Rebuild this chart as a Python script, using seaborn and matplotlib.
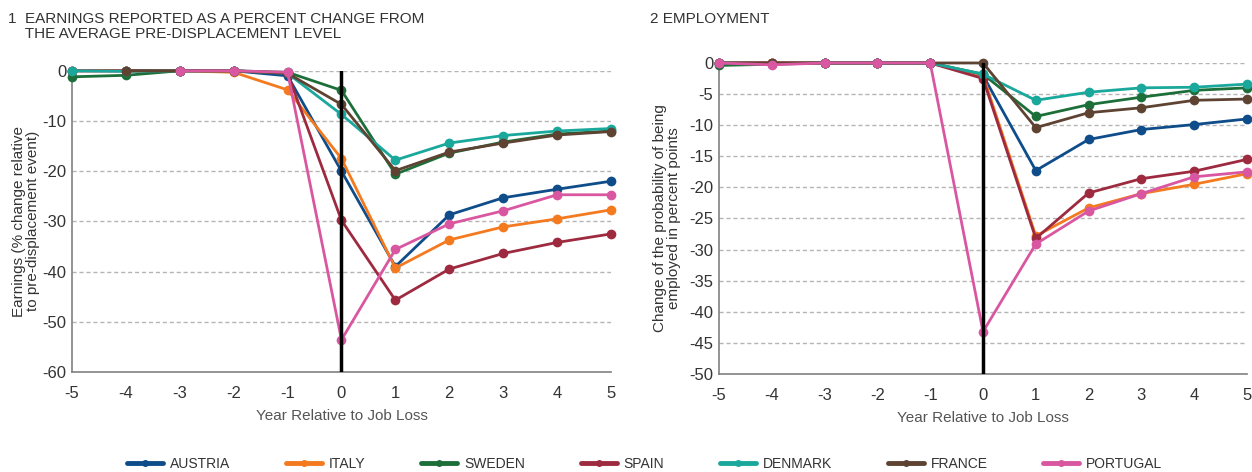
import numpy as np
import pandas as pd
import matplotlib
matplotlib.use("Agg")
import matplotlib.pyplot as plt
from matplotlib.lines import Line2D
import seaborn as sns

# ======================
# data
# ======================
years = [-5, -4, -3, -2, -1, 0, 1, 2, 3, 4, 5]
countries = ['AUSTRIA', 'ITALY', 'SWEDEN', 'SPAIN', 'DENMARK', 'FRANCE', 'PORTUGAL']

nan = np.nan
earn_austria = [0, 0, 0, 0, -1.0, -20.0, -39.0, -28.7, -25.3, -23.6, -22.0]
earn_italy = [0, 0, 0, -0.3, -3.8, -17.5, -39.3, -33.7, -31.1, -29.5, -27.7]
earn_sweden = [-1.2, -0.9, 0, 0, -0.3, -3.9, -20.6, -16.4, -14.2, -12.6, -12.0]
earn_spain = [0, 0, 0, 0, -0.5, -29.8, -45.7, -39.5, -36.4, -34.2, -32.5]
earn_denmark = [0, -0.1, 0, 0, -0.5, -8.7, -17.8, -14.4, -12.9, -12.0, -11.5]
earn_france = [nan, 0, 0, 0, -0.5, -6.7, -19.9, -16.2, -14.4, -12.8, -12.1]
earn_portugal = [nan, nan, 0, 0, -0.3, -53.6, -35.6, -30.5, -27.9, -24.7, -24.7]

emp_austria = [0, 0, 0, 0, 0, -2.0, -17.3, -12.3, -10.7, -9.9, -9.0]
emp_italy = [0, 0, 0, 0, 0, -2.0, -27.8, -23.3, -21.0, -19.5, -17.8]
emp_sweden = [-0.4, -0.2, 0, 0, 0, -1.8, -8.6, -6.7, -5.5, -4.4, -4.0]
emp_spain = [0, 0, 0, 0, 0, -2.5, -28.2, -20.9, -18.6, -17.4, -15.5]
emp_denmark = [0, -0.1, 0, 0, 0, -1.8, -6.0, -4.7, -4.0, -3.9, -3.4]
emp_france = [0, 0, 0, 0, 0, 0, -10.4, -8.0, -7.2, -6.0, -5.8]
emp_portugal = [0, -0.3, 0, 0, 0, -43.2, -29.1, -23.8, -21.0, -18.3, -17.5]

earn_ticks = [0, -10, -20, -30, -40, -50, -60]
emp_ticks = [0, -5, -10, -15, -20, -25, -30, -35, -40, -45, -50]

palette = {'AUSTRIA': '#0f4c8a', 'ITALY': '#f47a20', 'SWEDEN': '#1d6f3a',
           'SPAIN': '#9e2a40', 'DENMARK': '#1aa89c', 'FRANCE': '#5e4232',
           'PORTUGAL': '#d957a0'}


def to_long(series):
    rows = []
    for c, vals in zip(countries, series):
        for y, v in zip(years, vals):
            if not np.isnan(v):
                rows.append({'year': y, 'value': v, 'country': c})
    return pd.DataFrame(rows)


earn_df = to_long([earn_austria, earn_italy, earn_sweden, earn_spain,
                   earn_denmark, earn_france, earn_portugal])
emp_df = to_long([emp_austria, emp_italy, emp_sweden, emp_spain,
                  emp_denmark, emp_france, emp_portugal])

# ======================
# plot
# ======================
sns.set_theme(style='white')
plt.rcParams['font.family'] = ['Liberation Sans', 'DejaVu Sans']
TXT = '#333333'

fig = plt.figure(figsize=(12.52, 4.72), dpi=100)
ax1 = fig.add_axes([0.0575, 0.212, 0.4305, 0.638])
ax2 = fig.add_axes([0.5743, 0.2076, 0.4217, 0.659])


def style_axis(ax, df, ticks, ylabel, pad):
    sns.lineplot(data=df, x='year', y='value', hue='country', hue_order=countries,
                 palette=palette, marker='o', markersize=7, markeredgewidth=0,
                 linewidth=2.0, legend=False, ax=ax, clip_on=False, zorder=3)
    ax.set_xlim(-5, 5)
    ax.set_ylim(ticks[-1], 0)
    ax.set_xticks(years)
    ax.set_yticks(ticks)
    ax.set_xticklabels([str(y) for y in years], fontsize=12, color=TXT)
    ax.set_yticklabels([str(t) for t in ticks], fontsize=12, color=TXT)
    for t in ticks[:-1]:
        ax.axhline(t, color='#b5b5b5', lw=1, ls=(0, (3, 2)), zorder=1)
    ax.axvline(0, color='black', lw=2.5, zorder=4)
    for s in ['top', 'right']:
        ax.spines[s].set_visible(False)
    for s in ['left', 'bottom']:
        ax.spines[s].set_color('#808080')
        ax.spines[s].set_linewidth(1.2)
    ax.tick_params(axis='x', direction='in', length=4, color='#808080', pad=10)
    ax.tick_params(axis='y', length=0, pad=4)
    ax.set_xlabel('Year Relative to Job Loss', fontsize=11, color='#555555', labelpad=6)
    ax.set_ylabel(ylabel, fontsize=11, color=TXT, labelpad=pad, linespacing=1.0)


style_axis(ax1, earn_df, earn_ticks,
           'Earnings (% change relative\nto pre-displacement event)', 2)
style_axis(ax2, emp_df, emp_ticks,
           'Change of the probability of being\nemployed in percent points', 6)

fig.text(0.006, 0.975, '1  EARNINGS REPORTED AS A PERCENT CHANGE FROM\n    THE AVERAGE PRE-DISPLACEMENT LEVEL',
         fontsize=11, color=TXT, va='top', ha='left', linespacing=1.15)
fig.text(0.519, 0.975, '2 EMPLOYMENT', fontsize=11, color=TXT, va='top', ha='left')

handles = [Line2D([0], [0], color=palette[c], lw=3.5, marker='o', markersize=4)
           for c in countries]
fig.legend(handles, countries, loc='lower center', bbox_to_anchor=(0.515, -0.025),
           ncol=7, frameon=False, fontsize=10, handlelength=2.6, columnspacing=4.0,
           handletextpad=0.5, labelcolor=TXT)

fig.savefig('out.png', dpi=100)
